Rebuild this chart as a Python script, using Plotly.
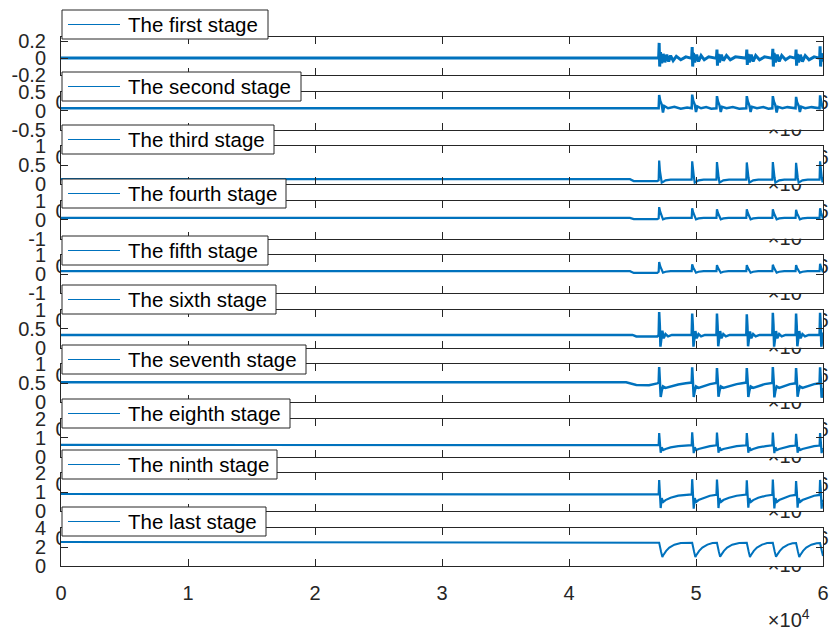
import plotly.graph_objects as go

W, H = 831, 633
FONT = "Liberation Sans, Arial, sans-serif"
BLUE = "#0072BD"
AX = "#262626"

stage_names = ["The first stage", "The second stage", "The third stage", "The fourth stage",
               "The fifth stage", "The sixth stage", "The seventh stage", "The eighth stage",
               "The ninth stage", "The last stage"]

x_tick_values = [0, 10000, 20000, 30000, 40000, 50000, 60000]
x_tick_labels = ["0", "1", "2", "3", "4", "5", "6"]

y_ranges = [[-0.2, 0.25], [-0.5, 0.5], [0, 1], [-1, 1], [-1, 1], [0, 1], [0, 1], [0, 2], [0, 2], [0, 4]]
y_tick_values = [[-0.2, 0, 0.2], [-0.5, 0, 0.5], [0, 0.5, 1], [-1, 0, 1], [-1, 0, 1],
                 [0, 0.5, 1], [0, 0.5, 1], [0, 1, 2], [0, 1, 2], [0, 2, 4]]
y_tick_labels = [["-0.2", "0", "0.2"], ["-0.5", "0", "0.5"], ["0", "0.5", "1"], ["-1", "0", "1"],
                 ["-1", "0", "1"], ["0", "0.5", "1"], ["0", "0.5", "1"], ["0", "1", "2"],
                 ["0", "1", "2"], ["0", "2", "4"]]

stage1 = [(0, 0.0), (46950, 0.0),
          (47060, 0.01), (47100, 0.18), (47140, -0.10), (47200, 0.07), (47300, -0.06), (47420, 0.05), (47550, -0.05), (47700, 0.04), (47850, -0.04), (48000, 0.03), (48200, -0.03), (48450, 0.02), (48800, -0.02), (49200, 0.015), (49600, 0.0),
          (49660, 0.01), (49700, 0.13), (49740, -0.10), (49800, 0.06), (49900, -0.05), (50050, 0.04), (50200, -0.04), (50400, 0.03), (50650, -0.02), (51000, 0.015), (51550, 0.0),
          (51610, 0.01), (51650, 0.10), (51690, -0.09), (51750, 0.05), (51850, -0.05), (52000, 0.04), (52150, -0.03), (52400, 0.03), (52700, -0.02), (53100, 0.015), (53900, 0.0),
          (53960, 0.01), (54000, 0.10), (54040, -0.08), (54100, 0.05), (54200, -0.05), (54350, 0.04), (54500, -0.04), (54700, 0.03), (55000, -0.02), (55400, 0.015), (55950, 0.0),
          (56010, 0.01), (56050, 0.11), (56090, -0.10), (56150, 0.06), (56250, -0.05), (56400, 0.04), (56550, -0.04), (56750, 0.03), (57050, -0.02), (57400, 0.015), (57800, 0.0),
          (57840, 0.01), (57880, 0.10), (57920, -0.09), (57980, 0.05), (58080, -0.05), (58220, 0.04), (58380, -0.04), (58600, 0.03), (58900, -0.02), (59300, 0.015), (59700, 0.0),
          (59740, 0.01), (59770, 0.14), (59810, -0.10), (59870, 0.06), (59940, -0.04), (60000, 0.02)]

stage2 = [(0, 0.06), (46800, 0.06),
          (47060, 0.06), (47100, 0.41), (47180, 0.26), (47300, 0.16), (47400, -0.05), (47500, 0.12), (47800, 0.06), (48300, 0.10), (48800, 0.05), (49300, 0.08), (49660, 0.06),
          (49700, 0.42), (49780, 0.26), (49900, 0.16), (50000, -0.04), (50100, 0.11), (50400, 0.06), (50800, 0.09), (51200, 0.05), (51610, 0.06),
          (51650, 0.38), (51730, 0.24), (51850, 0.14), (51950, -0.04), (52050, 0.10), (52400, 0.06), (52900, 0.09), (53400, 0.05), (53960, 0.06),
          (54000, 0.38), (54080, 0.24), (54200, 0.14), (54300, -0.04), (54400, 0.10), (54800, 0.06), (55300, 0.09), (55700, 0.05), (56010, 0.06),
          (56050, 0.38), (56130, 0.24), (56250, 0.14), (56350, -0.05), (56450, 0.10), (56800, 0.06), (57200, 0.09), (57840, 0.06),
          (57880, 0.36), (57960, 0.22), (58080, 0.13), (58180, -0.04), (58280, 0.10), (58600, 0.06), (59100, 0.09), (59730, 0.06),
          (59770, 0.40), (59850, 0.24), (59950, 0.12), (60000, 0.05)]

stage3 = [(0, 0.13), (44800, 0.13), (45100, 0.08), (46950, 0.08), (47060, 0.10),
          (47100, 0.62), (47160, 0.35), (47230, 0.20), (47300, 0.04), (47420, 0.06), (47600, 0.10), (48000, 0.12), (49660, 0.12),
          (49700, 0.60), (49760, 0.34), (49830, 0.20), (49900, 0.04), (50020, 0.06), (50200, 0.10), (50600, 0.12), (51610, 0.12),
          (51650, 0.58), (51710, 0.32), (51780, 0.18), (51850, 0.04), (51970, 0.06), (52150, 0.10), (52600, 0.12), (53960, 0.12),
          (54000, 0.57), (54060, 0.32), (54130, 0.18), (54200, 0.04), (54320, 0.06), (54500, 0.10), (54900, 0.12), (56010, 0.12),
          (56050, 0.58), (56110, 0.33), (56180, 0.18), (56250, 0.04), (56370, 0.06), (56550, 0.10), (56950, 0.12), (57840, 0.12),
          (57880, 0.56), (57940, 0.30), (58010, 0.17), (58080, 0.04), (58200, 0.06), (58380, 0.10), (58800, 0.12), (59730, 0.12),
          (59770, 0.60), (59830, 0.34), (59900, 0.18), (59970, 0.05), (60000, 0.08)]

stage4 = [(0, 0.09), (44800, 0.09), (45100, 0.03), (46950, 0.03), (47060, 0.07),
          (47100, 0.66), (47180, 0.42), (47280, 0.20), (47400, 0.02), (47600, 0.07), (48000, 0.09), (49660, 0.09),
          (49700, 0.60), (49780, 0.38), (49880, 0.18), (50000, 0.02), (50200, 0.07), (50600, 0.09), (51610, 0.09),
          (51650, 0.55), (51730, 0.35), (51830, 0.17), (51950, 0.02), (52150, 0.07), (52550, 0.09), (53960, 0.09),
          (54000, 0.55), (54080, 0.35), (54180, 0.17), (54300, 0.02), (54500, 0.07), (54900, 0.09), (56010, 0.09),
          (56050, 0.55), (56130, 0.35), (56230, 0.17), (56350, 0.02), (56550, 0.07), (56950, 0.09), (57840, 0.09),
          (57880, 0.52), (57960, 0.33), (58060, 0.16), (58180, 0.02), (58380, 0.07), (58780, 0.09), (59730, 0.09),
          (59770, 0.60), (59850, 0.38), (59950, 0.15), (60000, 0.05)]

stage5 = [(0, 0.16), (44800, 0.16), (45100, 0.07), (46950, 0.07), (47060, 0.13),
          (47100, 0.64), (47180, 0.42), (47280, 0.25), (47400, 0.08), (47600, 0.13), (48000, 0.16), (49660, 0.16),
          (49700, 0.52), (49780, 0.36), (49880, 0.22), (50000, 0.08), (50200, 0.13), (50600, 0.16), (51610, 0.16),
          (51650, 0.48), (51730, 0.34), (51830, 0.20), (51950, 0.08), (52150, 0.13), (52550, 0.16), (53960, 0.16),
          (54000, 0.48), (54080, 0.34), (54180, 0.20), (54300, 0.08), (54500, 0.13), (54900, 0.16), (56010, 0.16),
          (56050, 0.50), (56130, 0.35), (56230, 0.21), (56350, 0.08), (56550, 0.13), (56950, 0.16), (57840, 0.16),
          (57880, 0.48), (57960, 0.33), (58060, 0.20), (58180, 0.08), (58380, 0.13), (58780, 0.16), (59730, 0.16),
          (59770, 0.55), (59850, 0.36), (59950, 0.18), (60000, 0.10)]

stage6 = [(0, 0.34), (45000, 0.34), (45300, 0.30), (46950, 0.30), (47060, 0.34),
          (47100, 0.94), (47150, 0.60), (47200, 0.03), (47260, 0.20), (47350, 0.45), (47450, 0.25), (47600, 0.36), (47800, 0.30), (48100, 0.34), (49660, 0.34),
          (49700, 0.90), (49750, 0.58), (49800, 0.03), (49860, 0.20), (49950, 0.44), (50050, 0.25), (50200, 0.36), (50400, 0.30), (50700, 0.34), (51610, 0.34),
          (51650, 0.90), (51700, 0.58), (51750, 0.04), (51810, 0.20), (51900, 0.44), (52000, 0.25), (52150, 0.36), (52350, 0.30), (52650, 0.34), (53960, 0.34),
          (54000, 0.88), (54050, 0.56), (54100, 0.04), (54160, 0.20), (54250, 0.43), (54350, 0.25), (54500, 0.36), (54700, 0.30), (55000, 0.34), (56010, 0.34),
          (56050, 0.92), (56100, 0.60), (56150, 0.03), (56210, 0.20), (56300, 0.44), (56400, 0.25), (56550, 0.36), (56750, 0.30), (57050, 0.34), (57840, 0.34),
          (57880, 0.90), (57930, 0.58), (57980, 0.04), (58040, 0.20), (58130, 0.44), (58230, 0.25), (58380, 0.36), (58580, 0.30), (58880, 0.34), (59730, 0.34),
          (59770, 0.92), (59820, 0.60), (59870, 0.03), (59930, 0.20), (60000, 0.40)]

stage7 = [(0, 0.53), (44500, 0.53), (45300, 0.46), (46300, 0.45), (46950, 0.50), (47060, 0.52),
          (47100, 0.93), (47160, 0.60), (47220, 0.14), (47300, 0.30), (47400, 0.42), (47600, 0.38), (48000, 0.42), (48600, 0.47), (49200, 0.50), (49660, 0.52),
          (49700, 0.92), (49760, 0.60), (49820, 0.14), (49900, 0.30), (50000, 0.42), (50200, 0.38), (50600, 0.43), (51100, 0.48), (51610, 0.51),
          (51650, 0.90), (51710, 0.60), (51770, 0.15), (51850, 0.30), (51950, 0.42), (52150, 0.38), (52600, 0.43), (53200, 0.48), (53960, 0.52),
          (54000, 0.90), (54060, 0.60), (54120, 0.14), (54200, 0.30), (54300, 0.42), (54500, 0.38), (54900, 0.43), (55400, 0.48), (56010, 0.51),
          (56050, 0.93), (56110, 0.60), (56170, 0.13), (56250, 0.30), (56350, 0.42), (56550, 0.38), (56950, 0.43), (57400, 0.48), (57840, 0.50),
          (57880, 0.90), (57940, 0.58), (58000, 0.15), (58080, 0.30), (58180, 0.42), (58380, 0.38), (58800, 0.43), (59300, 0.48), (59730, 0.50),
          (59770, 0.92), (59830, 0.60), (59890, 0.12), (59960, 0.30), (60000, 0.38)]

stage8 = [(0, 0.63), (46950, 0.63), (47060, 0.62),
          (47100, 1.26), (47160, 0.80), (47220, 0.22), (47300, 0.50), (47420, 0.36), (47600, 0.42), (48000, 0.50), (48600, 0.57), (49200, 0.61), (49660, 0.62),
          (49700, 1.30), (49760, 0.80), (49820, 0.20), (49900, 0.50), (50020, 0.36), (50200, 0.42), (50600, 0.50), (51100, 0.57), (51610, 0.61),
          (51650, 1.28), (51710, 0.80), (51770, 0.22), (51850, 0.50), (51970, 0.36), (52150, 0.42), (52600, 0.50), (53200, 0.57), (53960, 0.61),
          (54000, 1.25), (54060, 0.78), (54120, 0.22), (54200, 0.50), (54320, 0.36), (54500, 0.42), (54900, 0.50), (55500, 0.57), (56010, 0.61),
          (56050, 1.28), (56110, 0.80), (56170, 0.20), (56250, 0.50), (56370, 0.36), (56550, 0.42), (56950, 0.50), (57400, 0.57), (57840, 0.60),
          (57880, 1.22), (57940, 0.78), (58000, 0.22), (58080, 0.50), (58200, 0.36), (58380, 0.42), (58800, 0.50), (59300, 0.57), (59730, 0.60),
          (59770, 1.25), (59830, 0.78), (59890, 0.20), (59960, 0.45), (60000, 0.38)]

stage9 = [(0, 0.92), (46950, 0.92), (47060, 0.90),
          (47100, 1.66), (47160, 1.10), (47220, 0.18), (47300, 0.70), (47420, 0.50), (47600, 0.60), (48000, 0.72), (48600, 0.83), (49200, 0.89), (49660, 0.90),
          (49700, 1.70), (49760, 1.10), (49820, 0.15), (49900, 0.70), (50020, 0.50), (50200, 0.60), (50600, 0.72), (51100, 0.83), (51610, 0.88),
          (51650, 1.68), (51710, 1.10), (51770, 0.18), (51850, 0.70), (51970, 0.50), (52150, 0.60), (52600, 0.72), (53200, 0.83), (53960, 0.89),
          (54000, 1.64), (54060, 1.08), (54120, 0.20), (54200, 0.70), (54320, 0.50), (54500, 0.60), (54900, 0.72), (55500, 0.83), (56010, 0.88),
          (56050, 1.68), (56110, 1.10), (56170, 0.16), (56250, 0.70), (56370, 0.50), (56550, 0.60), (56950, 0.72), (57400, 0.83), (57840, 0.87),
          (57880, 1.60), (57940, 1.05), (58000, 0.20), (58080, 0.70), (58200, 0.50), (58380, 0.60), (58800, 0.72), (59300, 0.83), (59730, 0.87),
          (59770, 1.66), (59830, 1.08), (59890, 0.15), (59960, 0.60), (60000, 0.50)]

stage10 = [(0, 2.52), (46950, 2.52),
           (47100, 2.45), (47250, 1.50), (47350, 0.95), (47450, 1.20), (47650, 1.60), (47900, 1.95), (48300, 2.25), (48800, 2.42), (49600, 2.50),
           (49700, 2.45), (49850, 1.50), (49950, 0.95), (50050, 1.20), (50250, 1.60), (50500, 1.95), (50900, 2.25), (51300, 2.42), (51600, 2.48),
           (51650, 2.45), (51800, 1.50), (51900, 0.98), (52000, 1.20), (52200, 1.60), (52450, 1.95), (52850, 2.25), (53400, 2.42), (53950, 2.50),
           (54000, 2.45), (54150, 1.50), (54250, 0.95), (54350, 1.20), (54550, 1.60), (54800, 1.95), (55200, 2.25), (55600, 2.42), (56000, 2.48),
           (56050, 2.45), (56200, 1.50), (56300, 0.98), (56400, 1.20), (56600, 1.60), (56850, 1.95), (57250, 2.25), (57600, 2.40), (57830, 2.45),
           (57880, 2.42), (58030, 1.50), (58130, 0.95), (58230, 1.20), (58430, 1.60), (58680, 1.95), (59080, 2.25), (59500, 2.40), (59720, 2.45),
           (59770, 2.42), (59920, 1.50), (60000, 1.05)]

stages = [stage1, stage2, stage3, stage4, stage5, stage6, stage7, stage8, stage9, stage10]

# ---------------- layout geometry (pixels) ----------------
X0, X1 = 61, 823
TOP0, PITCH, AXH = 37, 54.56, 38
LEG_TOPS = [10, 72, 125, 179, 236, 285, 345, 399, 450, 507]
LEG_RIGHTS = [268, 301, 274, 286, 268, 276, 306, 290, 277, 266]
LEG_H = 29
LINE_W = [3, 2.5, 2.2, 2.2, 2.2, 2.5, 2.5, 2.2, 2.2, 2.0]


def px(x):
    return x / W


def py(y):
    return 1 - y / H


fig = go.Figure()
layout = dict(template="none", width=W, height=H, autosize=False,
              margin=dict(l=0, r=0, t=0, b=0, pad=0),
              paper_bgcolor="white", plot_bgcolor="white", showlegend=False,
              font=dict(family=FONT, size=20, color=AX),
              xaxis=dict(domain=[0, 1], visible=False, range=[0, 1], automargin=False),
              yaxis=dict(domain=[0, 1], visible=False, range=[0, 1], automargin=False))

# full-size hidden base subplot: makes every later panel paint its own white
# background over earlier panels (MATLAB-style overlapping axes)
fig.add_trace(go.Scatter(x=[None], y=[None], xaxis="x", yaxis="y", showlegend=False, hoverinfo="skip"))

shapes = []
annotations = []
for k in range(10):
    n = k + 2
    m = k + 12
    top = TOP0 + PITCH * k
    bot = top + AXH
    pts = stages[k]
    fig.add_trace(go.Scatter(x=[p[0] for p in pts], y=[p[1] for p in pts], mode="lines",
                             name=stage_names[k], xaxis=f"x{n}", yaxis=f"y{n}", showlegend=False,
                             hoverinfo="skip", line=dict(color=BLUE, width=LINE_W[k])))
    fig.add_trace(go.Scatter(x=[None], y=[None], xaxis=f"x{m}", yaxis=f"y{n}",
                             showlegend=False, hoverinfo="skip"))
    layout[f"xaxis{n}"] = dict(domain=[px(X0), px(X1)], anchor=f"y{n}", range=[0, 60000],
                               tickmode="array", tickvals=x_tick_values, ticktext=x_tick_labels,
                               ticks="inside", ticklen=7, tickcolor=AX, tickwidth=1,
                               showline=True, linecolor=AX, linewidth=1, mirror="ticks",
                               showgrid=False, zeroline=False, ticklabelstandoff=9, automargin=False,
                               tickfont=dict(family=FONT, size=20, color=AX))
    layout[f"yaxis{n}"] = dict(domain=[py(bot), py(top)], anchor=f"x{n}", range=y_ranges[k],
                               tickmode="array", tickvals=y_tick_values[k], ticktext=y_tick_labels[k],
                               ticks="inside", ticklen=7, tickcolor=AX, tickwidth=1,
                               showline=True, linecolor=AX, linewidth=1, mirror="ticks",
                               showgrid=False, zeroline=False, ticklabelstandoff=10, automargin=False,
                               tickfont=dict(family=FONT, size=20, color=AX))
    layout[f"xaxis{m}"] = dict(overlaying=f"x{n}", anchor=f"y{n}", side="bottom", range=[0, 60000],
                               tickmode="array", tickvals=[57300], ticktext=["×10<sup>4</sup>"],
                               ticks="", showline=False, showgrid=False, zeroline=False,
                               ticklabelstandoff=40, automargin=False,
                               tickfont=dict(family=FONT, size=20, color=AX))
    # MATLAB-style legend box for this panel
    lt = LEG_TOPS[k]
    lc = lt + LEG_H / 2
    shapes.append(dict(type="rect", xref="paper", yref="paper", layer="above",
                       x0=px(X0 + 1), x1=px(LEG_RIGHTS[k]), y0=py(lt + LEG_H), y1=py(lt),
                       fillcolor="white", line=dict(color=AX, width=1)))
    shapes.append(dict(type="line", xref="paper", yref="paper", layer="above",
                       x0=px(68), x1=px(120), y0=py(lc), y1=py(lc),
                       line=dict(color=BLUE, width=1)))
    annotations.append(dict(xref="paper", yref="paper", x=px(126), y=py(lc), text=stage_names[k],
                            showarrow=False, xanchor="left", yanchor="middle",
                            font=dict(family=FONT, size=20.5, color="black")))

layout["shapes"] = shapes
layout["annotations"] = annotations
fig.update_layout(**layout)
fig.write_html("out.html", config={"displayModeBar": False},
               post_script="document.body.style.margin='0px';")
